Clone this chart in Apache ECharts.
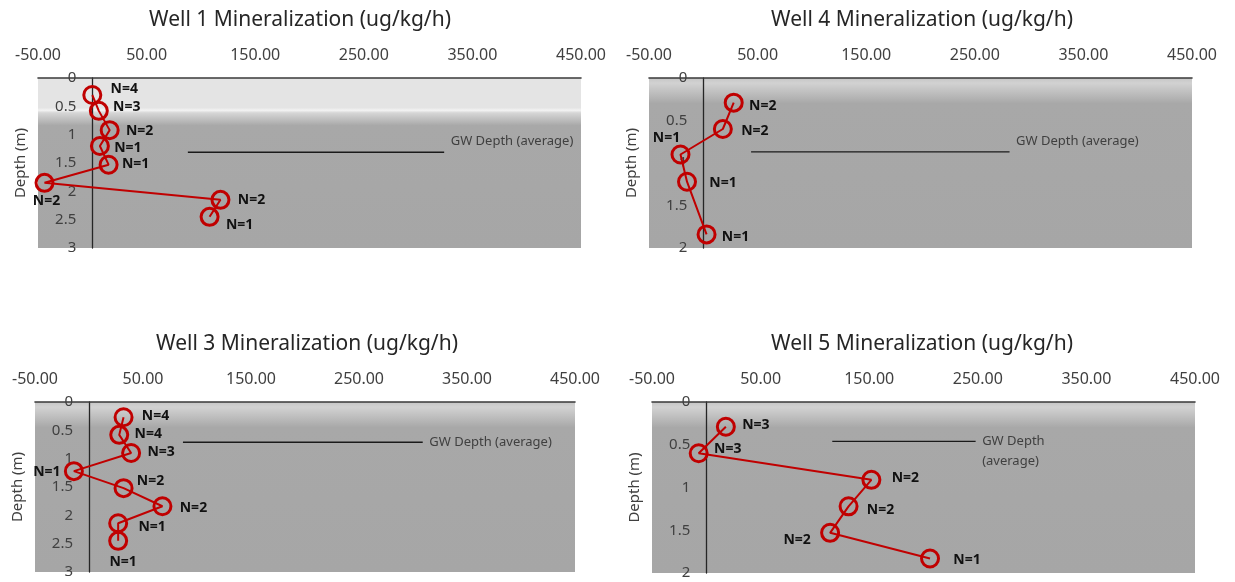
<!DOCTYPE html>
<html>
<head>
<meta charset="utf-8">
<script src="https://cdn.jsdelivr.net/npm/echarts@6/dist/echarts.min.js"></script>
<style>html,body{margin:0;padding:0;background:#fff}#chart{width:1235px;height:582px}</style>
</head>
<body>
<div id="chart"></div>
<script>
// ---------- DATA ----------
const xTickValues = [-50, 50, 150, 250, 350, 450];           // rate axis ticks (ug/kg/h)
const depthTicksWells13 = [0, 0.5, 1, 1.5, 2, 2.5, 3];
const depthTicksWells45 = [0, 0.5, 1, 1.5, 2];

const well1Title = 'Well 1 Mineralization (ug/kg/h)';
const well1Depth = [0.3, 0.58, 0.92, 1.2, 1.53, 1.85, 2.15, 2.45];
const well1Rate  = [0, 6, 16, 7, 15, -44, 118, 108];
const well1N     = [4, 3, 2, 1, 1, 2, 2, 1];
const well1GwDepth = 1.31;
const well1GwRate  = [88, 324];

const well4Title = 'Well 4 Mineralization (ug/kg/h)';
const well4Depth = [0.29, 0.6, 0.9, 1.22, 1.84];
const well4Rate  = [28, 18, -21, -15, 3];
const well4N     = [2, 2, 1, 1, 1];
const well4GwDepth = 0.87;
const well4GwRate  = [44, 282];

const well3Title = 'Well 3 Mineralization (ug/kg/h)';
const well3Depth = [0.27, 0.58, 0.9, 1.22, 1.52, 1.84, 2.14, 2.45];
const well3Rate  = [32, 28, 39, -14, 32, 68, 27, 27];
const well3N     = [4, 4, 3, 1, 2, 2, 1, 1];
const well3GwDepth = 0.71;
const well3GwRate  = [87, 309];

const well5Title = 'Well 5 Mineralization (ug/kg/h)';
const well5Depth = [0.29, 0.6, 0.91, 1.22, 1.53, 1.83];
const well5Rate  = [18, -7, 152, 131, 114, 206];
const well5N     = [3, 3, 2, 2, 2, 1];
const well5GwDepth = 0.46;
const well5GwRate  = [116, 248];

// ---------- STYLE / LAYOUT ----------
const FONT = '"Noto Sans", "Open Sans", sans-serif';
const RED = '#c00000';

const bandBg = {type:'linear', x:0, y:0, x2:0, y2:1, colorStops:[
  {offset:0, color:'#e4e4e4'}, {offset:0.175, color:'#e4e4e4'},
  {offset:0.19, color:'#f3f3f3'}, {offset:0.205, color:'#d6d6d6'},
  {offset:0.28, color:'#a8a8a8'}, {offset:1, color:'#a6a6a6'}]};
const fadeBg = () => ({type:'linear', x:0, y:0, x2:0, y2:1, colorStops:[
  {offset:0, color:'#c6c6c6'}, {offset:0.03, color:'#d2d2d2'},
  {offset:0.15, color:'#a8a8a8'}, {offset:1, color:'#a6a6a6'}]});

const panels = [
  {title: well1Title, depth: well1Depth, rate: well1Rate, n: well1N, gwDepth: well1GwDepth, gwRate: well1GwRate,
   depthTicks: depthTicksWells13, grid:{left:38, top:78, width:543, height:170}, titleX:300, titleY:10, bg: bandBg,
   labelOffsets: [[32,-6],[28,-4],[30,1],[28,2],[27,-1],[2,18],[31,0],[30,8]],
   gwText: 'GW Depth (average)', gwOffset: [0,-11]},
  {title: well4Title, depth: well4Depth, rate: well4Rate, n: well4N, gwDepth: well4GwDepth, gwRate: well4GwRate,
   depthTicks: depthTicksWells45, grid:{left:649, top:78, width:543, height:170}, titleX:922, titleY:10, bg: fadeBg(),
   labelOffsets: [[29,3],[32,2],[-14,-16],[36,1],[29,3]],
   gwText: 'GW Depth (average)', gwOffset: [0,-11]},
  {title: well3Title, depth: well3Depth, rate: well3Rate, n: well3N, gwDepth: well3GwDepth, gwRate: well3GwRate,
   depthTicks: depthTicksWells13, grid:{left:35, top:402, width:540, height:170}, titleX:307, titleY:334, bg: fadeBg(),
   labelOffsets: [[32,-1],[29,-1],[30,-1],[-27,1],[27,-7],[31,2],[34,4],[5,21]],
   gwText: 'GW Depth (average)', gwOffset: [0,0]},
  {title: well5Title, depth: well5Depth, rate: well5Rate, n: well5N, gwDepth: well5GwDepth, gwRate: well5GwRate,
   depthTicks: depthTicksWells45, grid:{left:652, top:402, width:543, height:171}, titleX:922, titleY:334, bg: fadeBg(),
   labelOffsets: [[30,-2],[29,-4],[34,-2],[32,4],[-33,7],[37,2]],
   gwText: 'GW Depth\n(average)', gwOffset: [0,10]}
];

const xMin = xTickValues[0], xMax = xTickValues[xTickValues.length-1];
const xStep = xTickValues[1] - xTickValues[0];

const option = {
  animation: false,
  backgroundColor: '#fff',
  title: panels.map(p => ({
    text: p.title, left: p.titleX, top: p.titleY, textAlign: 'center', padding: 0,
    textStyle: {fontFamily: FONT, fontSize: 21, fontWeight: 'normal', color: '#262626'}
  })),
  grid: panels.map(p => Object.assign({show: true, borderWidth: 0, backgroundColor: p.bg,
    containLabel: false, outerBoundsMode: 'none'}, p.grid)),
  xAxis: panels.map((p, i) => ({
    gridIndex: i, type: 'value', position: 'top', min: xMin, max: xMax, interval: xStep,
    axisLine: {show: true, onZero: false, lineStyle: {color: '#3a3a3a', width: 1.6}},
    axisTick: {show: false}, splitLine: {show: false},
    axisLabel: {formatter: v => v.toFixed(2), fontFamily: FONT, fontSize: 16, color: '#404040', margin: 15}
  })),
  yAxis: panels.map((p, i) => ({
    gridIndex: i, type: 'value', inverse: true, position: 'left',
    // place the depth axis where the rate axis crosses zero
    offset: -p.grid.width * (0 - xMin) / (xMax - xMin),
    min: p.depthTicks[0], max: p.depthTicks[p.depthTicks.length-1], interval: p.depthTicks[1] - p.depthTicks[0],
    name: 'Depth (m)', nameLocation: 'middle', nameGap: 64, nameRotate: 90,
    nameTextStyle: {fontFamily: FONT, fontSize: 15, color: '#404040'},
    axisLine: {show: true, onZero: false, lineStyle: {color: '#262626', width: 1.3}},
    axisTick: {show: false}, splitLine: {show: false},
    axisLabel: {fontFamily: FONT, fontSize: 15, color: '#404040', margin: 16}
  })),
  series: []
};

panels.forEach((p, i) => {
  option.series.push({
    type: 'line', xAxisIndex: i, yAxisIndex: i, z: 3,
    data: p.rate.map((r, k) => ({value: [r, p.depth[k]], label: {offset: p.labelOffsets[k]}})),
    symbol: 'circle', symbolSize: 17,
    itemStyle: {color: 'rgba(0,0,0,0)', borderColor: RED, borderWidth: 3},
    lineStyle: {color: RED, width: 2},
    label: {show: true, position: 'inside', formatter: q => 'N=' + p.n[q.dataIndex],
            fontFamily: FONT, fontSize: 14, fontWeight: 'bold', color: '#111'},
    emphasis: {disabled: true}, silent: true
  });
  option.series.push({
    type: 'line', xAxisIndex: i, yAxisIndex: i, z: 2,
    data: [
      {value: [p.gwRate[0], p.gwDepth]},
      {value: [p.gwRate[1], p.gwDepth], label: {show: true, position: 'right', distance: 6, offset: p.gwOffset,
        formatter: p.gwText, fontFamily: FONT, fontSize: 13, color: '#404040', lineHeight: 20, align: 'left'}}
    ],
    symbol: 'circle', symbolSize: 1, itemStyle: {color: 'rgba(0,0,0,0)'},
    lineStyle: {color: '#1a1a1a', width: 1.3},
    label: {show: false},
    emphasis: {disabled: true}, silent: true
  });
});

const chart = echarts.init(document.getElementById('chart'), null, {renderer: 'canvas'});
chart.setOption(option);
</script>
</body>
</html>
